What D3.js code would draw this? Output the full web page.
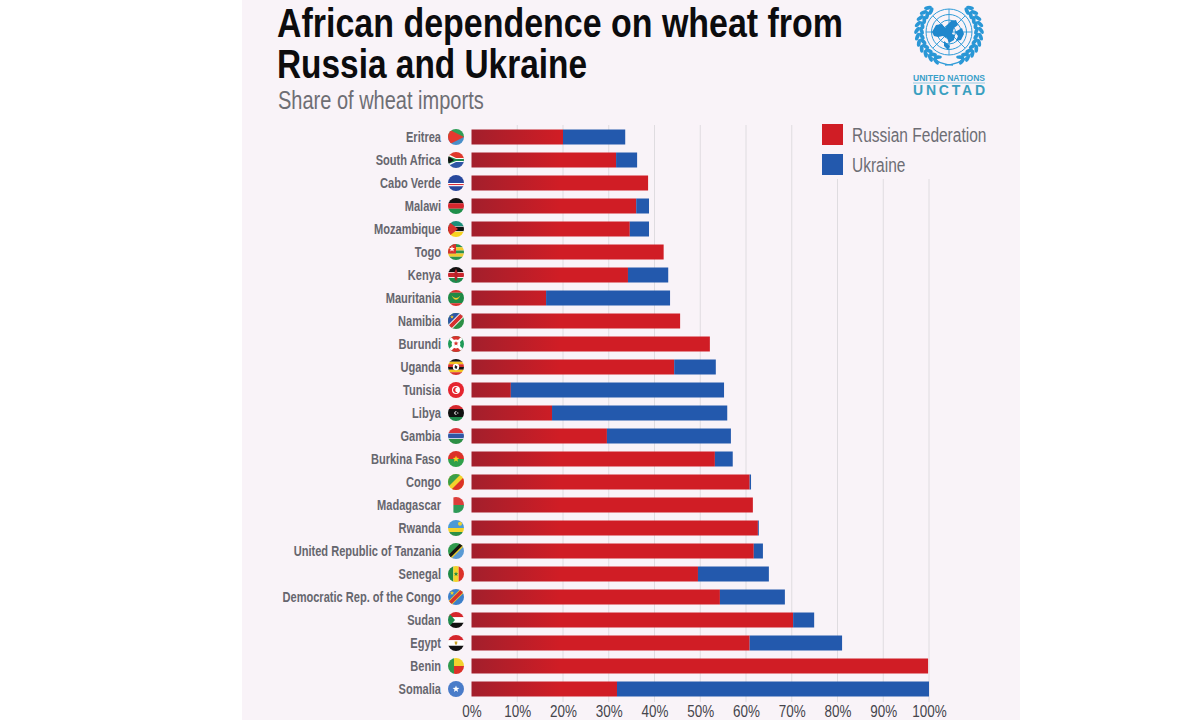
<!DOCTYPE html>
<html>
<head>
<meta charset="utf-8">
<script src="https://cdn.jsdelivr.net/npm/d3@7"></script>
<style>
html, body { margin: 0; padding: 0; background: #fff; }
text { font-family: "Liberation Sans", sans-serif; }
</style>
</head>
<body>
<svg id="chart" width="1200" height="720"></svg>
<script>
//values, share of wheat imports in %
const countries = ["Eritrea", "South Africa", "Cabo Verde", "Malawi", "Mozambique", "Togo", "Kenya", "Mauritania",
    "Namibia", "Burundi", "Uganda", "Tunisia", "Libya", "Gambia", "Burkina Faso", "Congo", "Madagascar", "Rwanda",
    "United Republic of Tanzania", "Senegal", "Democratic Rep. of the Congo", "Sudan", "Egypt", "Benin", "Somalia"];
const russia = [20.0, 31.6, 38.6, 36.0, 34.6, 42.0, 34.2, 16.3, 45.6, 52.1, 44.3, 8.6, 17.6, 29.6, 53.2, 60.8, 61.5,
    62.6, 61.7, 49.5, 54.3, 70.3, 60.8, 99.8, 31.8];
const ukraine = [13.6, 4.6, 0, 2.8, 4.2, 0, 8.8, 27.1, 0, 0, 9.1, 46.6, 38.3, 27.1, 3.9, 0.3, 0, 0.2, 2.0, 15.5, 14.2,
    4.6, 20.2, 0, 68.2];
const seriesNames = ["Russian Federation", "Ukraine"];
const tickValues = [0, 10, 20, 30, 40, 50, 60, 70, 80, 90, 100];

const titleLines = ["African dependence on wheat from", "Russia and Ukraine"];
const subtitle = "Share of wheat imports";

const RED = "#d01d25", RED_DARK = "#a21f2c", BLUE = "#2359ad", PANEL = "#f9f3f8";

//flag artwork, on a 16 x 16 box around the centre of the badge
const star = (x, y, r) => d3.range(10).map(i => {
    let a = i * Math.PI / 5 - Math.PI / 2, q = i % 2 ? r * 0.42 : r;
    return (i ? "L" : "M") + (x + q * Math.cos(a)).toFixed(2) + " " + (y + q * Math.sin(a)).toFixed(2);
}).join("") + "Z";
const hBands = (cols, w) => {
    let tot = d3.sum(w || cols.map(() => 1)), y = -8;
    return cols.map((c, i) => {
        let h = 16 * (w ? w[i] : 1) / tot, p = [`M-8 ${y}H8V${y + h}H-8Z`, c];
        y += h;
        return p;
    });
};
const vBands = (cols) => cols.map((c, i) => {
    let x = -8 + i * 16 / cols.length;
    return [`M${x} -8H${x + 16 / cols.length}V8H${x}Z`, c];
});
const diag = (w) => `M-8 ${8 - w}L${8 - w} -8H8V${-8 + w}L${-8 + w} 8H-8Z`;

const flags = {
    "Eritrea": [...hBands(["#2f9e57", "#4a8fc9"]), ["M-8 -8L8 0L-8 8Z", "#e5392f"]],
    "South Africa": [...hBands(["#e0392c", "#2f55a5"]), ["M-8 -6L0 -2H8V2H0L-8 6Z", "#fff"], ["M-8 -4L0 -1H8V1H0L-8 4Z", "#1f8a4c"], ["M-8 -4L-2 0L-8 4Z", "#111"]],
    "Cabo Verde": [...hBands(["#27479c", "#fff", "#d9303a", "#fff", "#27479c"], [8, 1, 1.2, 1, 4.8])],
    "Malawi": hBands(["#111", "#d5262c", "#1f8f4a"]),
    "Mozambique": [...hBands(["#1c8f7a", "#fff", "#111", "#fff", "#f6d21f"], [5, .6, 4.4, .6, 5]), ["M-8 -8L2 0L-8 8Z", "#d8312c"]],
    "Togo": [...hBands(["#2a9150", "#f2cb2e", "#2a9150", "#f2cb2e", "#2a9150"]), ["M-8 -8H0V1.6H-8Z", "#d8312c"], [star(-4, -3, 3), "#fff"]],
    "Kenya": [...hBands(["#111", "#fff", "#c9242b", "#fff", "#1f8a4c"], [5, .7, 4.6, .7, 5]), ["M0 -6.5Q3.4 0 0 6.5Q-3.4 0 0 -6.5Z", "#b3222a"]],
    "Mauritania": [...hBands(["#d8312c", "#1f8a45", "#d8312c"], [1.6, 6, 1.6]), ["M-4.5 -2.4Q0 6 4.5 -2.4Q0 2.6 -4.5 -2.4Z", "#f2cb2e"]],
    "Namibia": [["M-8 -8H8V8H-8Z", "#2c8f45"], ["M-8 8V-8H8Z", "#2f55a5"], [diag(4), "#fff"], [diag(2.8), "#d5312f"], [star(-4, -4, 2), "#f2cb2e"]],
    "Burundi": [["M-8 -8H8V8H-8Z", "#1f9a57"], ["M-8 -8H8L0 0Z", "#d8312c"], ["M-8 8H8L0 0Z", "#d8312c"], ["M-9 -7L-7 -9L9 7L7 9Z", "#fff"], ["M9 -7L7 -9L-9 7L-7 9Z", "#fff"], ["M-4.4 0A4.4 4.4 0 1 0 4.4 0A4.4 4.4 0 1 0 -4.4 0Z", "#fff"], [star(0, -.5, 2.6), "#d8312c"]],
    "Uganda": [...hBands(["#111", "#f2c21f", "#d8312c", "#111", "#f2c21f", "#d8312c"]), ["M-3.2 0A3.2 3.2 0 1 0 3.2 0A3.2 3.2 0 1 0 -3.2 0Z", "#fff"], ["M-1 -2L1.4 -.4L.6 2L-1.4 1Z", "#222"]],
    "Tunisia": [["M-8 -8H8V8H-8Z", "#e5252f"], ["M-4 0A4 4 0 1 0 4 0A4 4 0 1 0 -4 0Z", "#fff"], ["M1.6 -2.4A2.9 2.9 0 1 0 1.6 2.4A2.3 2.3 0 1 1 1.6 -2.4Z", "#e5252f"]],
    "Libya": [...hBands(["#d5262c", "#111", "#1f8a4c"], [1, 2, 1]), ["M1 -1.7A1.9 1.9 0 1 0 1 1.7A1.5 1.5 0 1 1 1 -1.7Z", "#fff"], [star(1.8, 0, 1), "#fff"]],
    "Gambia": hBands(["#d8323a", "#fff", "#2f55a5", "#fff", "#2c8f45"], [5, .6, 4.8, .6, 5]),
    "Burkina Faso": [...hBands(["#dc3128", "#2fa04a"]), [star(0, 0, 3.4), "#f6d21f"]],
    "Congo": [["M-8 -8H8V8H-8Z", "#f2d32c"], ["M-8 -8H5L-8 5Z", "#3a9e4a"], ["M8 8H-5L8 -5Z", "#dc3128"]],
    "Madagascar": [["M-8 -8H-2.6V8H-8Z", PANEL], ["M-2.6 -8H8V0H-2.6Z", "#dc3d3a"], ["M-2.6 0H8V8H-2.6Z", "#2f9a58"]],
    "Rwanda": [...hBands(["#4a9ad6", "#f2d32c", "#2c8f45"], [2, 1, 1]), ["M2 -4.2A2 2 0 1 0 6 -4.2A2 2 0 1 0 2 -4.2Z", "#f2d32c"]],
    "United Republic of Tanzania": [["M-8 8V-8H8Z", "#2f9a4c"], ["M8 -8V8H-8Z", "#5a9ad4"], ["M-8 5L5 -8H8V-5L-5 8H-8Z", "#e8c82c"], ["M-8 7L7 -8H8V-7L-7 8H-8Z", "#111"], ["M-8 4.4L4.4 -8H7.6L-8 7.6Z", "#111"]],
    "Senegal": [...vBands(["#1f8a45", "#f2d32c", "#dc3128"]), [star(0, 0, 2.4), "#1f8a45"]],
    "Democratic Rep. of the Congo": [["M-8 -8H8V8H-8Z", "#3d7fc9"], [diag(3.6), "#f2d32c"], [diag(2.6), "#d5312f"], [star(-4, -4, 2.4), "#f2d32c"]],
    "Sudan": [...hBands(["#d5262c", "#fff", "#111"]), ["M-8 -8L-1 0L-8 8Z", "#1f8a4c"]],
    "Egypt": [...hBands(["#d5262c", "#fff", "#111"]), ["M-1.4 -1.6H1.4L1 1.6H-1Z", "#c9a227"]],
    "Benin": [["M-8 -8H-2V8H-8Z", "#2f9a4c"], ["M-2 -8H8V0H-2Z", "#f2d32c"], ["M-2 0H8V8H-2Z", "#dc3128"]],
    "Somalia": [["M-8 -8H8V8H-8Z", "#4a7cc9"], [star(0, 0, 3.6), "#fff"]]
};

//no narrow face is installed, so squeeze the glyphs sideways
function squeeze(sel, factor) {
    sel.each(function() {
        this.setAttribute("textLength", (this.getComputedTextLength() * factor).toFixed(1));
        this.setAttribute("lengthAdjust", "spacingAndGlyphs");
    });
}

const svg = d3.select("#chart");
const defs = svg.append("defs");

let grad = defs.append("linearGradient").attr("id", "redFade").attr("gradientUnits", "userSpaceOnUse")
    .attr("x1", 471).attr("x2", 560).attr("y1", 0).attr("y2", 0);
grad.append("stop").attr("offset", 0).attr("stop-color", RED_DARK);
grad.append("stop").attr("offset", 1).attr("stop-color", RED);

defs.append("clipPath").attr("id", "badge").append("circle").attr("r", 8);

svg.append("rect").attr("x", 242).attr("y", 0).attr("width", 778).attr("height", 720).attr("fill", PANEL);

let x = d3.scaleLinear().domain([0, 100]).range([471.5, 929]);
let y = d3.scaleBand().domain(countries).range([125.5, 700.5]).paddingInner(0.348).paddingOuter(0.174);

//grid
svg.append("g").selectAll("line").data(tickValues.slice(1)).enter().append("line")
    .attr("x1", d => x(d)).attr("x2", d => x(d))
    .attr("y1", 125).attr("y2", 702)
    .attr("stroke", "#dfdce0").attr("stroke-width", 1);

//legend sits on a patch that hides the top of the last grid lines
svg.append("rect").attr("x", 812).attr("y", 118).attr("width", 200).attr("height", 61).attr("fill", PANEL);
let legend = svg.append("g").selectAll("g").data(seriesNames).enter().append("g")
    .attr("transform", (d, i) => "translate(822," + (124 + i * 30) + ")");
legend.append("rect").attr("width", 21).attr("height", 21).attr("fill", (d, i) => i ? BLUE : RED);
legend.append("text").attr("x", 30).attr("y", 18).attr("font-size", 20).attr("fill", "#6d6d74").text(d => d)
    .call(squeeze, 0.775);

//bars
let table = countries.map((c, i) => ({country: c, russia: russia[i], ukraine: ukraine[i]}));
let stacked = d3.stack().keys(["russia", "ukraine"])(table);
svg.append("g").selectAll("g").data(stacked).enter().append("g")
    .attr("fill", d => d.key == "russia" ? "url(#redFade)" : BLUE)
    .selectAll("rect").data(d => d).enter().append("rect")
    .attr("x", d => x(d[0]))
    .attr("y", d => y(d.data.country))
    .attr("width", d => x(d[1]) - x(d[0]))
    .attr("height", y.bandwidth());

//country names and flags
let rows = svg.append("g").selectAll("g").data(countries).enter().append("g")
    .attr("transform", d => "translate(0," + (y(d) + y.bandwidth() / 2) + ")");
rows.append("text").attr("x", 441).attr("y", 5).attr("text-anchor", "end")
    .attr("font-size", 14).attr("font-weight", "bold").attr("fill", "#66666e").text(d => d)
    .call(squeeze, 0.79);
let badges = rows.append("g").attr("transform", "translate(456,0)").attr("clip-path", "url(#badge)");
badges.selectAll("path").data(d => flags[d]).enter().append("path")
    .attr("d", d => d[0]).attr("fill", d => d[1]);

//x axis
let axis = svg.append("g").attr("transform", "translate(0,703)")
    .call(d3.axisBottom(x).tickValues(tickValues).tickFormat(d => d + "%").tickSize(0).tickPadding(3));
axis.select(".domain").remove();
axis.selectAll("text").attr("font-size", 16).attr("fill", "#45454c")
    .attr("font-family", '"Liberation Sans", sans-serif')
    .call(squeeze, 0.84);

//headings
svg.selectAll(".title").data(titleLines).enter().append("text").attr("class", "title")
    .attr("x", 277).attr("y", (d, i) => 37 + i * 41)
    .attr("font-size", 40).attr("font-weight", "bold").attr("fill", "#0c0c0e").text(d => d)
    .attr("lengthAdjust", "spacingAndGlyphs").attr("textLength", (d, i) => i ? 310 : 566);
svg.append("text").attr("x", 278).attr("y", 109).attr("font-size", 25).attr("fill", "#6e6e74").text(subtitle)
    .call(squeeze, 0.8);

//UN emblem
const LOGO = "#2f9bd8";
let logo = svg.append("g").attr("transform", "translate(949,32)");
[23, 17.5, 12, 6.5].forEach(r => logo.append("circle").attr("r", r).attr("fill", "none").attr("stroke", LOGO).attr("stroke-width", 1));
d3.range(8).forEach(i => logo.append("line").attr("y1", 0).attr("y2", -23)
    .attr("transform", "rotate(" + i * 45 + ")").attr("stroke", LOGO).attr("stroke-width", .9));
logo.append("path").attr("fill", "#1f87cc")
    .attr("d", "M-17 0L-13 -7L-7 -8L-4 -4L-2 -7L2 -11L7 -12L9 -7L5 -4L3 2L6 3L5 8L0 11L-2 6L-6 4L-11 5L-15 4Z M6 0L13 -4L15 2L12 8L7 9L9 4Z M-5 9L1 14L-1 18L-5 14Z");
[-1, 1].forEach(side => {
    d3.range(11).forEach(i => {
        let deg = 24 + i * 11.5, a = deg * Math.PI / 180;
        [27.5, 32].forEach((r, k) => {
            logo.append("ellipse").attr("rx", 1.9).attr("ry", 4).attr("fill", "#2a97d6")
                .attr("transform", "translate(" + (side * r * Math.sin(a)).toFixed(1) + "," + (r * Math.cos(a)).toFixed(1) + ") rotate(" + (side * ((k ? 60 : 115) - deg)) + ")");
        });
    });
    logo.append("path").attr("d", "M" + (-side * 4) + " 33Q" + (side * 10) + " 33 " + (side * 22) + " 22")
        .attr("fill", "none").attr("stroke", LOGO).attr("stroke-width", 1.5);
});
svg.append("text").attr("x", 949).attr("y", 80.5).attr("text-anchor", "middle").attr("font-size", 9.5)
    .attr("font-weight", "bold").attr("fill", "#3a9fc9").attr("textLength", 72).attr("lengthAdjust", "spacingAndGlyphs")
    .text("UNITED NATIONS");
svg.append("line").attr("x1", 913).attr("x2", 985).attr("y1", 83).attr("y2", 83).attr("stroke", "#6fb9d6").attr("stroke-width", .7);
svg.append("text").attr("x", 949).attr("y", 95).attr("text-anchor", "middle").attr("font-size", 14)
    .attr("font-weight", "bold").attr("fill", "#3a9fc0").attr("textLength", 72).attr("lengthAdjust", "spacing")
    .text("UNCTAD");
</script>
</body>
</html>
